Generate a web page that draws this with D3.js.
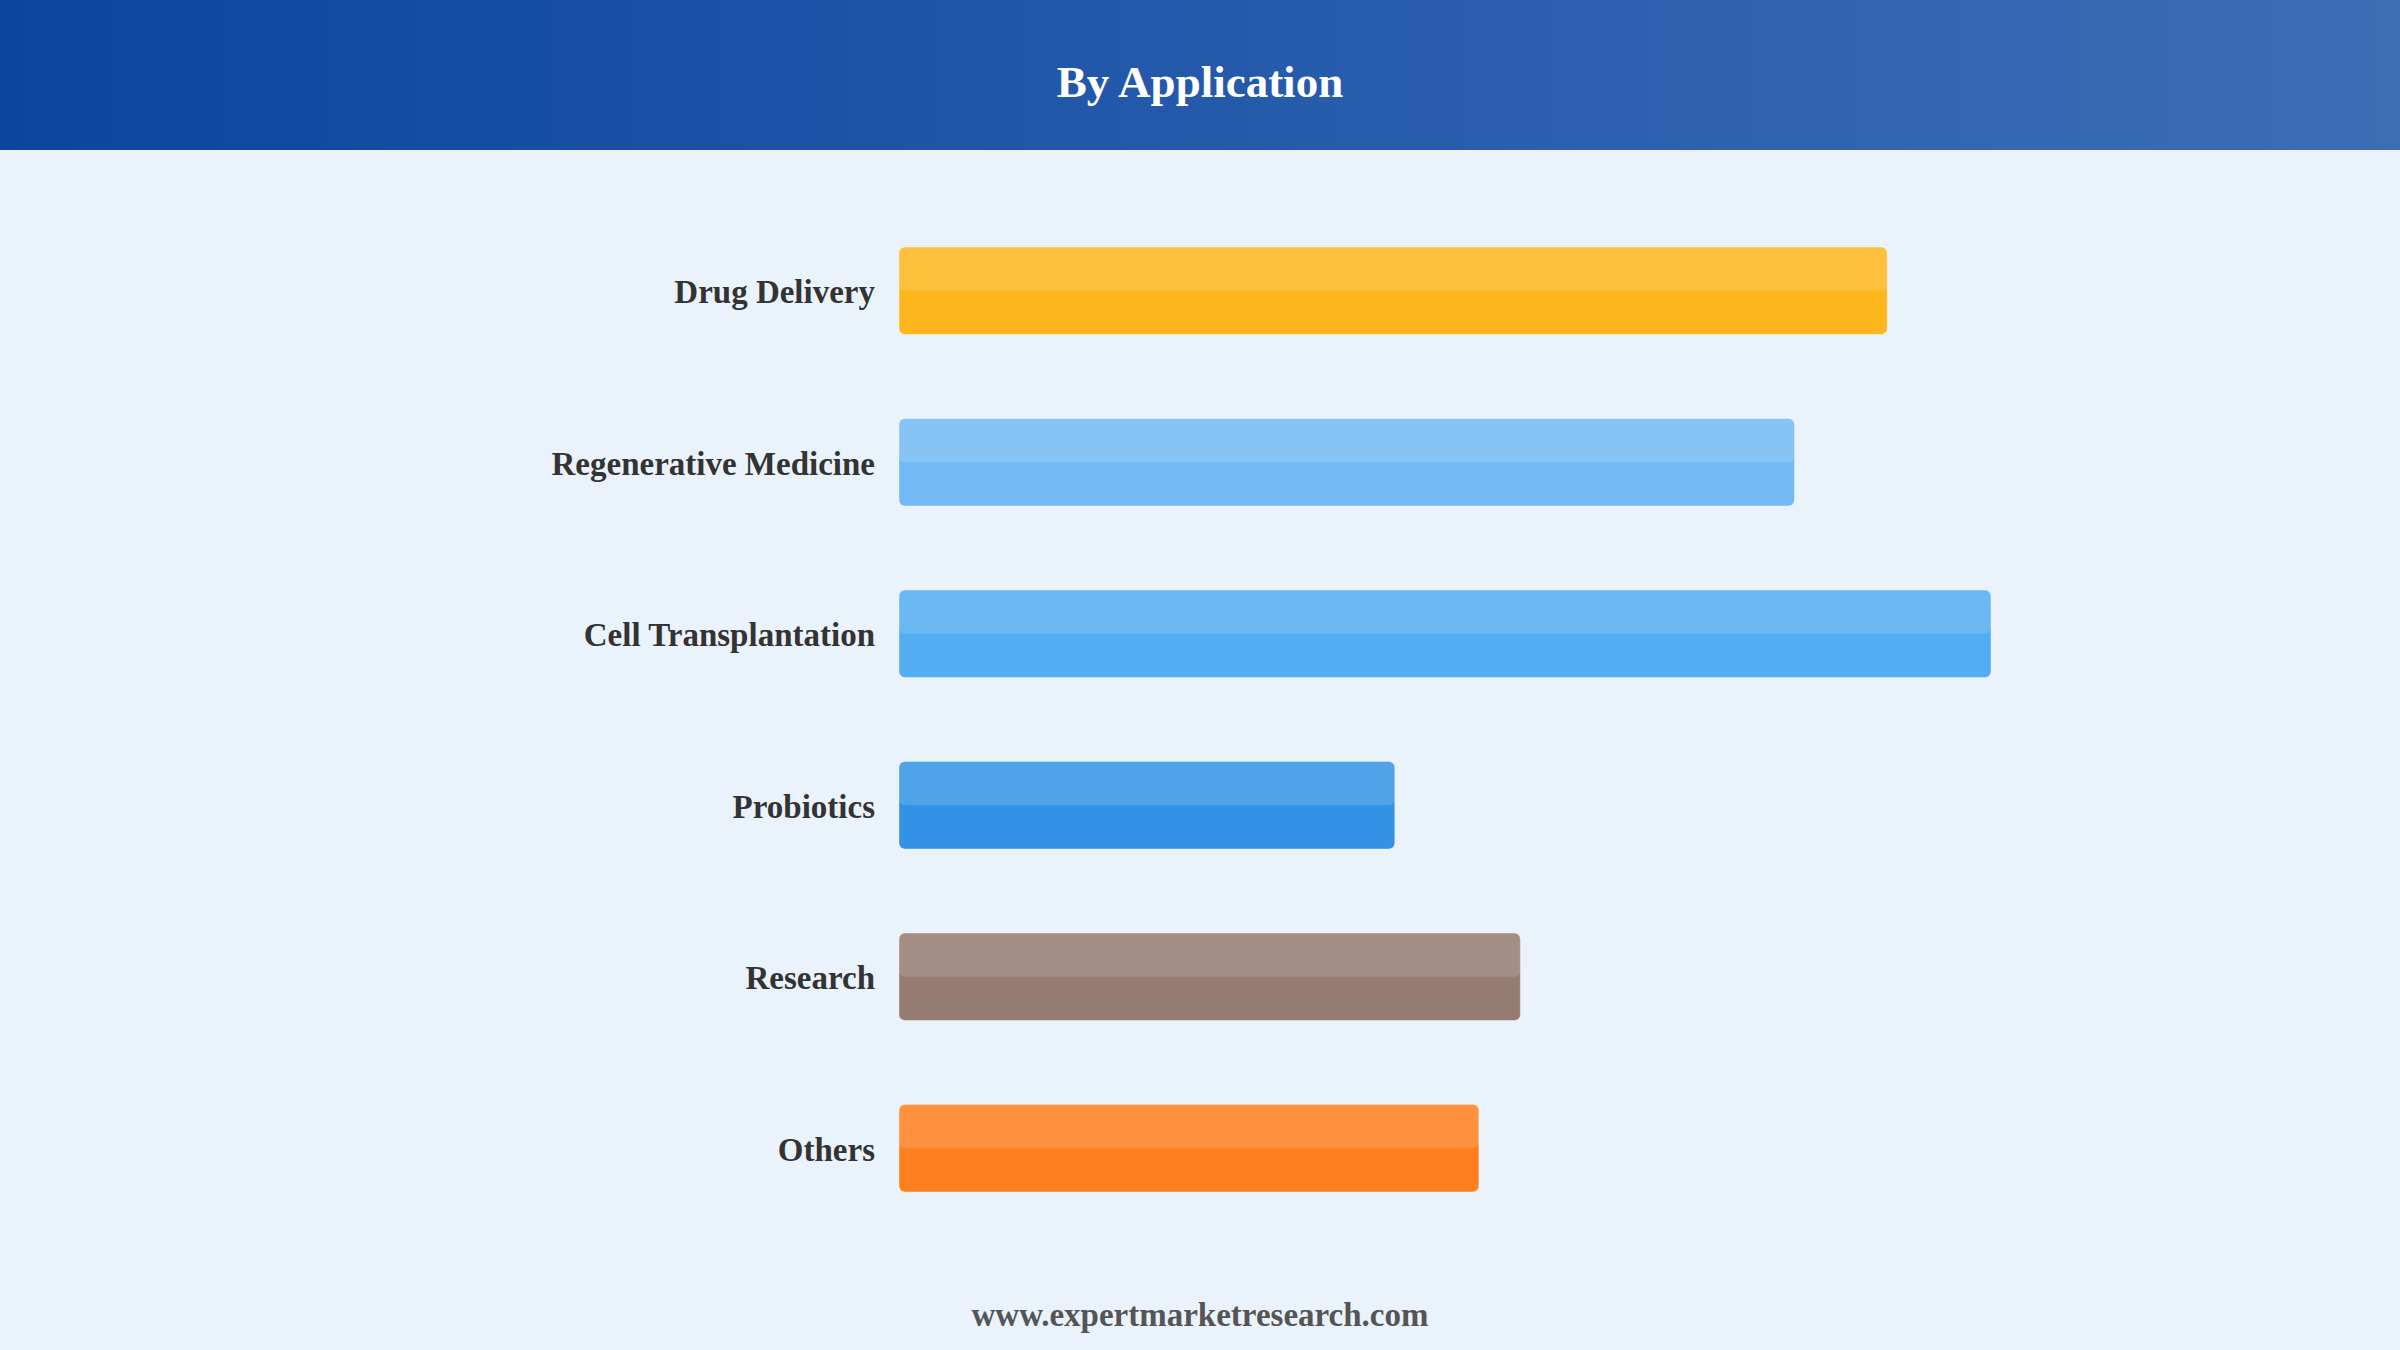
<!DOCTYPE html>
<html>
<head>
<meta charset="utf-8">
<script src="https://cdn.jsdelivr.net/npm/d3@7"></script>
<style>
  html, body { margin: 0; padding: 0; background: #eaf2fb; }
  svg { display: block; }
</style>
</head>
<body>
<svg id="chart" width="2400" height="1350"></svg>
<script>
const categories = ["Drug Delivery", "Regenerative Medicine", "Cell Transplantation", "Probiotics", "Research", "Others"];
const values = [9.05, 8.2, 10, 4.54, 5.69, 5.31];
const colors = ["#fdb71d", "#72baf5", "#52adf3", "#3292e6", "#967b71", "#ff7e1e"];
const title = "By Application";
const footer = "www.expertmarketresearch.com";

const W = 2400, H = 1350;
const svg = d3.select("#chart");
const defs = svg.append("defs");
const grad = defs.append("linearGradient").attr("id", "hdr").attr("x1", "0%").attr("x2", "100%");
grad.append("stop").attr("offset", "0%").attr("stop-color", "#0c45a0");
grad.append("stop").attr("offset", "100%").attr("stop-color", "#3d6db5");

svg.append("rect").attr("width", W).attr("height", H).attr("fill", "#eaf2fb");
svg.append("rect").attr("width", W).attr("height", 150).attr("fill", "url(#hdr)");
svg.append("text").attr("x", W / 2).attr("y", 97)
  .attr("text-anchor", "middle")
  .attr("font-family", "'Liberation Serif', 'Times New Roman', serif")
  .attr("font-weight", "bold").attr("font-size", 45).attr("fill", "#ffffff")
  .text(title);

const x = d3.scaleLinear().domain([0, 10]).range([899, 1991]);
const y = d3.scaleBand().domain(categories).range([163, 1276]).padding(0.49);

const data = categories.map((c, i) => ({ c, v: values[i], col: colors[i] }));
const g = svg.append("g");
const bars = g.selectAll("g.bar").data(data).join("g").attr("class", "bar");

bars.append("rect")
  .attr("x", x(0)).attr("y", d => y(d.c))
  .attr("width", d => x(d.v) - x(0)).attr("height", y.bandwidth())
  .attr("rx", 6).attr("ry", 6)
  .attr("fill", d => d.col)
  .attr("stroke", "rgba(255,255,255,0.35)").attr("stroke-width", 1);

bars.append("rect")
  .attr("x", x(0)).attr("y", d => y(d.c))
  .attr("width", d => x(d.v) - x(0)).attr("height", y.bandwidth() / 2)
  .attr("rx", 6).attr("ry", 6)
  .attr("fill", "#ffffff").attr("fill-opacity", 0.15);

bars.append("text")
  .attr("x", x(0) - 24).attr("y", d => y(d.c) + y.bandwidth() / 2 + 1)
  .attr("dy", "0.35em").attr("text-anchor", "end")
  .attr("font-family", "'Liberation Serif', 'Times New Roman', serif")
  .attr("font-weight", "bold").attr("font-size", 33).attr("fill", "#333333")
  .text(d => d.c);

svg.append("text").attr("x", W / 2).attr("y", 1326)
  .attr("text-anchor", "middle")
  .attr("font-family", "'Liberation Serif', 'Times New Roman', serif")
  .attr("font-weight", "bold").attr("font-size", 33).attr("fill", "#555555")
  .text(footer);
</script>
</body>
</html>
